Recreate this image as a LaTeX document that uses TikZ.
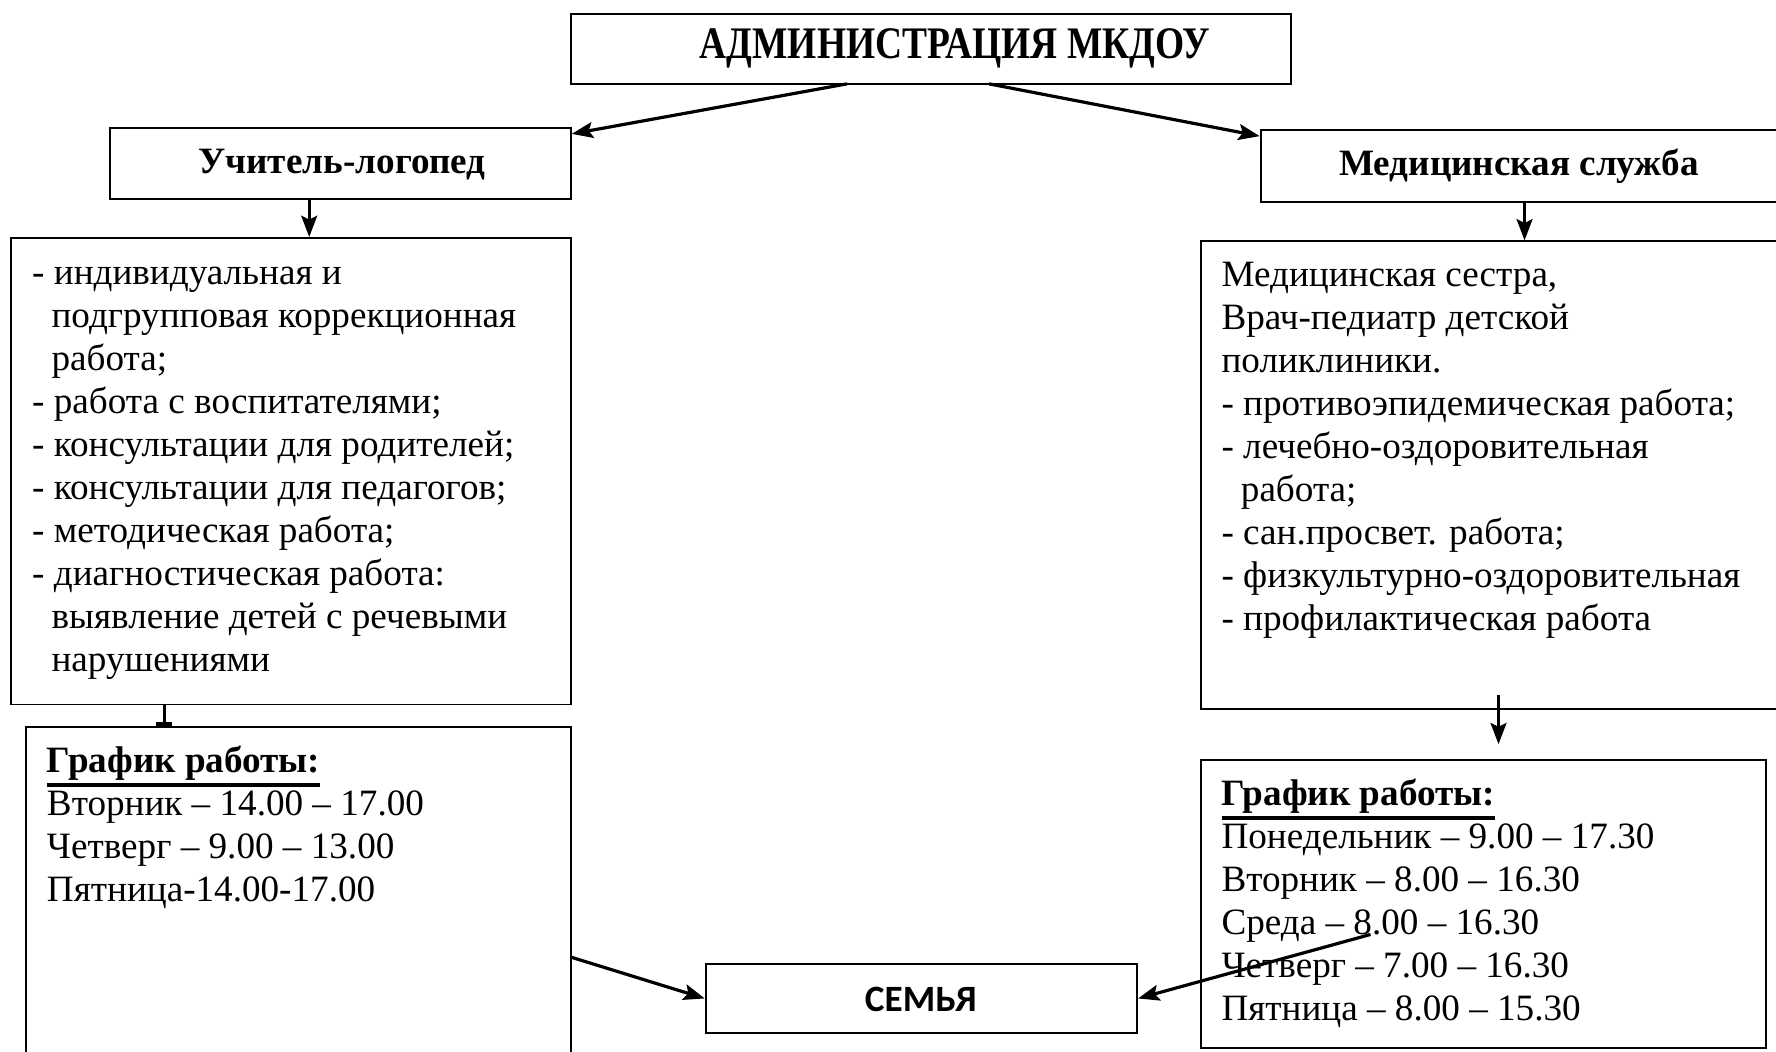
\documentclass[tikz,border=0pt]{standalone}
\usepackage{fontspec}
\setmainfont{Liberation Serif}
\newfontfamily\famfont{Carlito}
\usetikzlibrary{arrows.meta}
\newcommand\thickul[1]{\leavevmode\vtop{\hbox{#1}\kern1.0pt\hrule height 1.3pt}}
\begin{document}
\begin{tikzpicture}[x=0.015cm,y=-0.015cm,
  box/.style={draw, line width=0.7pt},
  rbox/.style n args={2}{box, minimum width=#1*0.015cm, minimum height=#2*0.015cm, inner sep=0pt},
  arr/.style={line width=1.2pt, -{Stealth[length=8pt,width=6pt,inset=1.5pt]}},
  bararr/.style={line width=1.2pt, -{Bar[width=6pt,line width=1.6pt]}},
  body/.style={inner sep=0pt, align=left, font=\fontsize{14}{16.2}\selectfont, anchor=base west},
  head/.style={inner sep=0pt, font=\fontsize{14}{16.2}\selectfont\bfseries},
  titletxt/.style={inner sep=0pt, font=\fontsize{17}{19}\selectfont\bfseries},
  famtxt/.style={inner sep=0pt, font=\fontsize{14}{16}\selectfont\famfont\bfseries}
]
\useasboundingbox (0,0) rectangle (1568,928);
\clip (0,0) rectangle (1568,928);

% boxes
\node[rbox={636}{62}] (admin) at (822,43) {};
\node[titletxt] (admintxt) at (843,43) {\scalebox{0.83}[1]{АДМИНИСТРАЦИЯ МКДОУ}};
\node[rbox={407}{63}] (log) at (300.5,144.5) {};
\node[head] (logtxt) at (302,145) {Учитель-логопед};
\node[rbox={487}{63}] (med) at (1356.5,146.5) {};
\node[head] (medtxt) at (1341,147) {Медицинская служба};
\node[rbox={494}{412}] (list1) at (257,416) {};
\node[rbox={540}{413}] (list2) at (1330,419.5) {};
\node[rbox={481}{330}] (sch1) at (263.5,807) {};
\node[rbox={499}{254}] (sch2) at (1309.5,798) {};
\node[rbox={381}{61}] (fam) at (813.5,881.5) {};
\node[famtxt] (famt) at (813,882) {СЕМЬЯ};

% texts (base anchor = baseline of the last line)
\node[body] (t1) at (28,593) {- индивидуальная и\\
\hspace*{7.3pt}подгрупповая коррекционная\\
\hspace*{7.3pt}работа;\\
- работа с воспитателями;\\
- консультации для родителей;\\
- консультации для педагогов;\\
- методическая работа;\\
- диагностическая работа:\\
\hspace*{7.3pt}выявление детей с речевыми\\
\hspace*{7.3pt}нарушениями};

\node[body] (t2) at (1078,557) {Медицинская сестра,\\
Врач-педиатр детской\\
поликлиники.\\
- противоэпидемическая работа;\\
- лечебно-оздоровительная\\
\hspace*{7.3pt}работа;\\
- сан.просвет. работа;\\
- физкультурно-оздоровительная\\
- профилактическая работа};

\node[body] (t3) at (41,796) {\thickul{\textbf{График работы:}}\\
Вторник – 14.00 – 17.00\\
Четверг – 9.00 – 13.00\\
Пятница-14.00-17.00};

\node[body] (t4) at (1078,901) {\thickul{\textbf{График работы:}}\\
Понедельник – 9.00 – 17.30\\
Вторник – 8.00 – 16.30\\
Среда – 8.00 – 16.30\\
Четверг – 7.00 – 16.30\\
Пятница – 8.00 – 15.30};

% connectors
\coordinate (c1) at (748,74);
\coordinate (c2) at (873,74);
\coordinate (c3) at (273,176);
\coordinate (c4) at (1346,178);
\coordinate (c5) at (145,622);
\coordinate (c6) at (1323,614);
\coordinate (c6e) at (1323,657);
\coordinate (c7) at (504,845);
\coordinate (c8) at (1210,825);

\draw[arr] (c1) -- ([yshift=-0.09cm]log.north east);
\draw[arr] (c2) -- ([yshift=-0.09cm]med.north west);
\draw[arr] (c3) -- (c3 |- list1.north);
\draw[arr] (c4) -- (c4 |- list2.north);
\draw[bararr] (c5) -- (c5 |- sch1.north);
\draw[arr] (c6) -- (c6e);
\draw[arr] (c7) -- (fam.west);
\draw[arr] (c8) -- (fam.east);
\end{tikzpicture}
\end{document}
